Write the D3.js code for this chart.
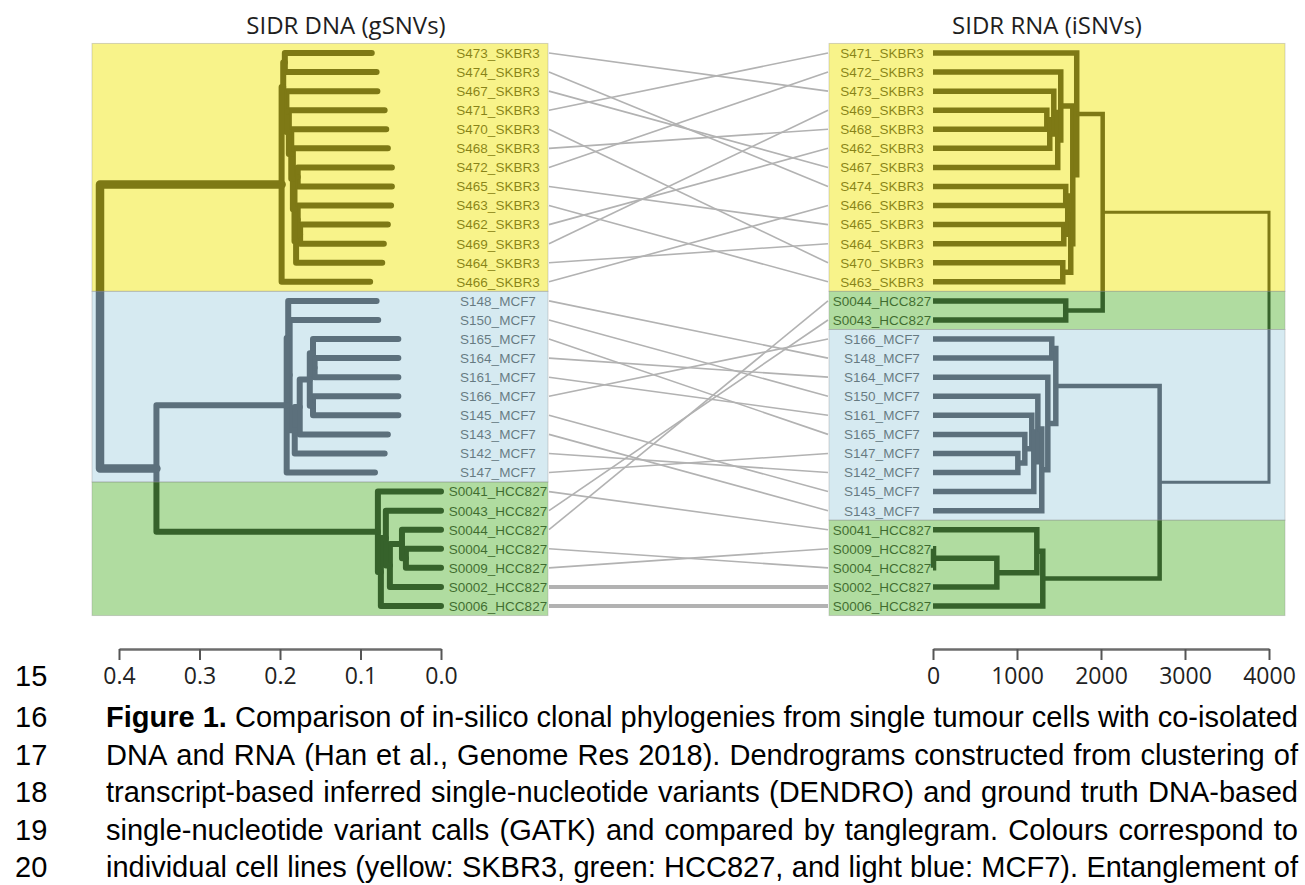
<!DOCTYPE html>
<html>
<head>
<meta charset="utf-8">
<script src="https://cdn.jsdelivr.net/npm/d3@7"></script>
<style>
    html, body { margin: 0; padding: 0; background: #fff; }
    svg { display: block; }
</style>
</head>
<body>
<svg id="chart" width="1305" height="885"></svg>
<script>
(function () {
    'use strict';

    // leaf order, top to bottom
    var dnaOrder = ["S473_SKBR3", "S474_SKBR3", "S467_SKBR3", "S471_SKBR3", "S470_SKBR3", "S468_SKBR3",
        "S472_SKBR3", "S465_SKBR3", "S463_SKBR3", "S462_SKBR3", "S469_SKBR3", "S464_SKBR3", "S466_SKBR3",
        "S148_MCF7", "S150_MCF7", "S165_MCF7", "S164_MCF7", "S161_MCF7", "S166_MCF7", "S145_MCF7",
        "S143_MCF7", "S142_MCF7", "S147_MCF7",
        "S0041_HCC827", "S0043_HCC827", "S0044_HCC827", "S0004_HCC827", "S0009_HCC827", "S0002_HCC827", "S0006_HCC827"];

    var rnaOrder = ["S471_SKBR3", "S472_SKBR3", "S473_SKBR3", "S469_SKBR3", "S468_SKBR3", "S462_SKBR3",
        "S467_SKBR3", "S474_SKBR3", "S466_SKBR3", "S465_SKBR3", "S464_SKBR3", "S470_SKBR3", "S463_SKBR3",
        "S0044_HCC827", "S0043_HCC827",
        "S166_MCF7", "S148_MCF7", "S164_MCF7", "S150_MCF7", "S161_MCF7", "S165_MCF7", "S147_MCF7",
        "S142_MCF7", "S145_MCF7", "S143_MCF7",
        "S0041_HCC827", "S0009_HCC827", "S0004_HCC827", "S0002_HCC827", "S0006_HCC827"];

    // where the DNA leaf branches stop (distance); missing ones end at 0
    var dnaTips = {
        "S473_SKBR3": 0.086, "S474_SKBR3": 0.080, "S467_SKBR3": 0.079, "S471_SKBR3": 0.070,
        "S470_SKBR3": 0.068, "S468_SKBR3": 0.066, "S472_SKBR3": 0.061, "S465_SKBR3": 0.061,
        "S463_SKBR3": 0.062, "S462_SKBR3": 0.066, "S469_SKBR3": 0.071, "S464_SKBR3": 0.073,
        "S466_SKBR3": 0.088,
        "S148_MCF7": 0.080, "S150_MCF7": 0.078, "S165_MCF7": 0.053, "S164_MCF7": 0.053,
        "S161_MCF7": 0.053, "S166_MCF7": 0.053, "S145_MCF7": 0.053, "S143_MCF7": 0.066,
        "S142_MCF7": 0.070, "S147_MCF7": 0.082
    };

    // trees: [height, upper child, lower child], a leaf is its name
    var dnaSkbr3 = [0.198,
        [0.196,
            [0.194, "S473_SKBR3", "S474_SKBR3"],
            [0.192, "S467_SKBR3",
                [0.189, "S471_SKBR3",
                    [0.186, "S470_SKBR3",
                        [0.184, "S468_SKBR3",
                            [0.182,
                                [0.178, "S472_SKBR3", "S465_SKBR3"],
                                [0.180,
                                    [0.178, "S463_SKBR3", [0.175, "S462_SKBR3", "S469_SKBR3"]],
                                    "S464_SKBR3"]]]]]]],
        "S466_SKBR3"];

    var dnaMcf7 = [0.1917,
        [0.1898, "S148_MCF7",
            [0.188, "S150_MCF7",
                [0.1817,
                    [0.1755,
                        [0.163,
                            [0.159, "S165_MCF7", [0.157, "S164_MCF7", "S161_MCF7"]],
                            [0.159, "S166_MCF7", "S145_MCF7"]],
                        "S143_MCF7"],
                    "S142_MCF7"]]],
        "S147_MCF7"];

    var dnaHcc = [0.0784, "S0041_HCC827",
        [0.0747,
            [0.0685, "S0043_HCC827",
                [0.0635,
                    [0.0485, "S0044_HCC827", [0.0436, "S0004_HCC827", "S0009_HCC827"]],
                    "S0002_HCC827"]],
            "S0006_HCC827"]];

    var dnaTree = [0.4236, dnaSkbr3, [0.3535, dnaMcf7, dnaHcc]];

    var rnaSkbr3 = [1711, "S471_SKBR3",
        [1664,
            [1521, "S472_SKBR3",
                [1485,
                    [1438, "S473_SKBR3",
                        [1390, [1355, "S469_SKBR3", "S468_SKBR3"], "S462_SKBR3"]],
                    "S467_SKBR3"]],
            [1640,
                [1604, [1580, "S474_SKBR3", "S466_SKBR3"], [1557, "S465_SKBR3", "S464_SKBR3"]],
                [1545, "S470_SKBR3", "S463_SKBR3"]]]];

    var rnaMcf7 = [1462,
        [1414, "S166_MCF7", "S148_MCF7"],
        [1367, "S164_MCF7",
            [1295,
                [1248, "S150_MCF7",
                    [1200,
                        [1176, "S161_MCF7", [1093, "S165_MCF7", [1010, "S147_MCF7", "S142_MCF7"]]],
                        "S145_MCF7"]],
                "S143_MCF7"]]];

    var rnaHcc = [1307,
        [1236, "S0041_HCC827", [760, [6, "S0009_HCC827", "S0004_HCC827"], "S0002_HCC827"]],
        "S0006_HCC827"];

    var rnaTree = [4000,
        [2020, rnaSkbr3, [1580, "S0044_HCC827", "S0043_HCC827"]],
        [2698, rnaMcf7, rnaHcc]];

    var dnaTicks = [0.4, 0.3, 0.2, 0.1, 0.0];
    var rnaTicks = [0, 1000, 2000, 3000, 4000];
    var sharedLinks = ["S0002_HCC827", "S0006_HCC827"];

    var cellColors = { SKBR3: "#f1e715", MCF7: "#add5e3", HCC827: "#61b941" };

    var captionNumbers = [16, 17, 18, 19, 20];
    var captionLines = [
        "Figure 1. Comparison of in-silico clonal phylogenies from single tumour cells with co-isolated",
        "DNA and RNA (Han et al., Genome Res 2018). Dendrograms constructed from clustering of",
        "transcript-based inferred single-nucleotide variants (DENDRO) and ground truth DNA-based",
        "single-nucleotide variant calls (GATK) and compared by tanglegram. Colours correspond to",
        "individual cell lines (yellow: SKBR3, green: HCC827, and light blue: MCF7). Entanglement of"
    ];
    var captionBoldWords = [2, 0, 0, 0, 0];

    var svg = d3.select('#chart');
    var labelFont = '"Liberation Sans", Arial, sans-serif';
    var axisFont = '"Open Sans", "Noto Sans", sans-serif';

    // row centres; bands reach half a step either side
    var rowY = d3.scaleLinear().domain([0, dnaOrder.length - 1]).range([53, 606]);
    var step = rowY(1) - rowY(0);

    var xDna = d3.scaleLinear().domain([0.4, 0]).range([119, 441]);
    var xRna = d3.scaleLinear().domain([0, 4000]).range([933, 1269]);

    var cellOf = function (name) { return name.split('_')[1]; };

    // runs of the same cell line -> coloured bands
    var bands = function (order) {
        var out = [];
        order.forEach(function (name, i) {
            var c = cellOf(name);
            if (out.length && out[out.length - 1].cell == c) {
                out[out.length - 1].last = i;
            } else {
                out.push({ cell: c, first: i, last: i });
            }
        });
        return out;
    };

    var layout = function (tree, order, tips) {
        var segs = [];
        var walk = function (node) {
            if (typeof node === 'string') {
                return { y: order.indexOf(node), h: (tips && tips[node]) || 0 };
            }
            var a = walk(node[1]);
            var b = walk(node[2]);
            var me = { y: (a.y + b.y) / 2, h: node[0] };
            segs.push({ me: me, a: a, b: b });
            return me;
        };
        walk(tree);
        return segs;
    };

    var drawPanel = function (opts) {
        var g = svg.append('g');
        var x = opts.x;
        var segs = layout(opts.tree, opts.order, opts.tips);

        g.selectAll('path.branch')
            .data(segs)
            .enter()
            .append('path')
            .attr('class', 'branch')
            .attr('fill', 'none')
            .attr('stroke', '#0a0a14')
            .attr('stroke-width', opts.width)
            .attr('stroke-linecap', opts.cap)
            .attr('stroke-linejoin', opts.cap == 'round' ? 'round' : 'miter')
            .attr('d', function (s) {
                return 'M' + x(s.a.h) + ',' + rowY(s.a.y) +
                    'H' + x(s.me.h) + 'V' + rowY(s.b.y) + 'H' + x(s.b.h);
            });

        g.selectAll('text.leaf')
            .data(opts.order)
            .enter()
            .append('text')
            .attr('class', 'leaf')
            .attr('x', opts.labelX)
            .attr('y', function (d, i) { return rowY(i); })
            .attr('dy', '0.36em')
            .attr('text-anchor', 'middle')
            .attr('font-family', labelFont)
            .attr('font-size', 13.5)
            .attr('fill', '#1c1c1c')
            .text(function (d) { return d; });

        // translucent colour bands laid over branches and labels
        g.selectAll('rect.band')
            .data(bands(opts.order))
            .enter()
            .append('rect')
            .attr('class', 'band')
            .attr('x', opts.left)
            .attr('width', opts.right - opts.left)
            .attr('y', function (b) { return rowY(b.first) - step / 2; })
            .attr('height', function (b) { return (b.last - b.first + 1) * step; })
            .attr('fill', function (b) { return cellColors[b.cell]; })
            .attr('fill-opacity', 0.5)
            .attr('stroke', '#8a8a8a')
            .attr('stroke-opacity', 0.35)
            .attr('stroke-width', 1);

        svg.append('text')
            .attr('x', opts.titleX)
            .attr('y', 34)
            .attr('text-anchor', 'middle')
            .attr('font-family', axisFont)
            .attr('font-size', 24)
            .attr('fill', '#1e1e1e')
            .text(opts.title);

        var axis = svg.append('g')
            .attr('transform', 'translate(0,649)')
            .call(d3.axisBottom(x).tickValues(opts.ticks).tickFormat(opts.format)
                .tickSize(11).tickSizeOuter(0).tickPadding(8));
        axis.select('.domain').attr('stroke', '#6c6c6c').attr('stroke-width', 2.5);
        axis.selectAll('.tick line').attr('stroke', '#555').attr('stroke-width', 2);
        axis.selectAll('.tick text')
            .attr('font-family', axisFont)
            .attr('font-size', 23)
            .attr('fill', '#222');
    };

    // tangle lines
    svg.append('g')
        .selectAll('line')
        .data(dnaOrder)
        .enter()
        .append('line')
        .attr('x1', 549)
        .attr('x2', 828)
        .attr('y1', function (d, i) { return rowY(i); })
        .attr('y2', function (d) { return rowY(rnaOrder.indexOf(d)); })
        .attr('stroke', '#b2b2b2')
        .attr('stroke-width', function (d) { return sharedLinks.indexOf(d) >= 0 ? 4 : 1.6; });

    drawPanel({
        tree: dnaTree, order: dnaOrder, tips: dnaTips, x: xDna,
        left: 92, right: 548, labelX: 498, titleX: 346,
        title: 'SIDR DNA (gSNVs)', ticks: dnaTicks, format: d3.format('.1f'),
        cap: 'round',
        width: function (s) { return s.me.h > 0.4 ? 8.5 : 6; }
    });

    drawPanel({
        tree: rnaTree, order: rnaOrder, tips: null, x: xRna,
        left: 829, right: 1285, labelX: 882, titleX: 1047,
        title: 'SIDR RNA (iSNVs)', ticks: rnaTicks, format: d3.format('d'),
        cap: 'butt',
        width: function (s) { return s.me.h > 3000 ? 3 : (s.me.h > 1900 ? 4.5 : 5.5); }
    });

    // caption, justified between capLeft and capRight
    var capFont = '"Liberation Sans", Arial, sans-serif';
    var capLeft = 106, capRight = 1298;
    var probe = svg.append('text').attr('font-family', capFont).attr('font-size', 100);
    var measure = function (w, bold) {
        probe.attr('font-weight', bold ? 'bold' : 'normal').text(w);
        return probe.node().getComputedTextLength();
    };
    var spaceW = measure('n n') - 2 * measure('n');

    var lines = captionLines.map(function (line, li) {
        var words = line.split(' ').map(function (w, wi) {
            var bold = wi < captionBoldWords[li];
            return { text: w, bold: bold, w: measure(w, bold) };
        });
        var natural = d3.sum(words, function (w) { return w.w; }) + spaceW * (words.length - 1);
        return { words: words, natural: natural };
    });
    probe.remove();

    var fontSize = 100 * (capRight - capLeft) / d3.max(lines, function (l) { return l.natural; });
    var k = fontSize / 100;

    var capG = svg.append('g')
        .attr('font-family', capFont)
        .attr('font-size', fontSize)
        .attr('fill', '#000');

    capG.append('text').attr('x', 15).attr('y', 686).text('15');

    lines.forEach(function (line, li) {
        var y = 727 + li * 37.5;
        capG.append('text').attr('x', 15).attr('y', y).text(captionNumbers[li]);
        var used = d3.sum(line.words, function (w) { return w.w * k; });
        var gap = (capRight - capLeft - used) / (line.words.length - 1);
        var t = capG.append('text').attr('y', y);
        var cx = capLeft;
        line.words.forEach(function (w) {
            t.append('tspan')
                .attr('x', cx)
                .attr('font-weight', w.bold ? 'bold' : 'normal')
                .text(w.text);
            cx += w.w * k + gap;
        });
    });
})();
</script>
</body>
</html>
